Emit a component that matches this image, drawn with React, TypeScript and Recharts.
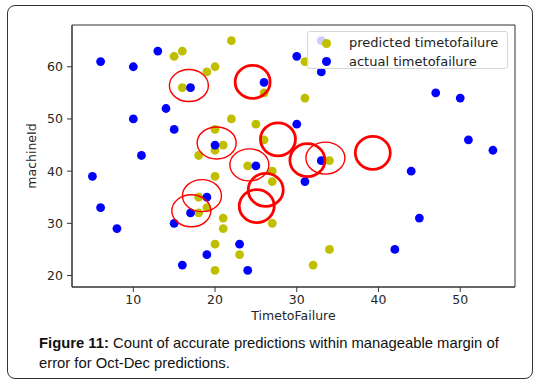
import React from "react";
import {
  ScatterChart,
  Scatter,
  XAxis,
  YAxis,
  ReferenceArea,
} from "recharts";

// values (TimetoFailure, machineId)
const predicted = [
  { x: 15, y: 62 }, { x: 16, y: 63 }, { x: 22, y: 65 }, { x: 19, y: 59 },
  { x: 20, y: 60 }, { x: 16, y: 56 }, { x: 26, y: 55 }, { x: 31, y: 61 },
  { x: 31, y: 54 }, { x: 22, y: 50 }, { x: 25, y: 49 }, { x: 20, y: 48 },
  { x: 26, y: 46 }, { x: 21, y: 45 }, { x: 20, y: 44 }, { x: 18, y: 43 },
  { x: 34, y: 42 }, { x: 24, y: 41 }, { x: 27, y: 40 }, { x: 20, y: 39 },
  { x: 27, y: 38 }, { x: 18, y: 35 }, { x: 19, y: 33 }, { x: 18, y: 32 },
  { x: 21, y: 31 }, { x: 21, y: 29 }, { x: 27, y: 30 }, { x: 20, y: 26 },
  { x: 23, y: 24 }, { x: 20, y: 21 }, { x: 34, y: 25 }, { x: 32, y: 22 },
];

const actual = [
  { x: 6, y: 61 }, { x: 10, y: 60 }, { x: 13, y: 63 }, { x: 17, y: 56 },
  { x: 26, y: 57 }, { x: 30, y: 62 }, { x: 33, y: 65 }, { x: 33, y: 59 },
  { x: 10, y: 50 }, { x: 14, y: 52 }, { x: 15, y: 48 }, { x: 30, y: 49 },
  { x: 47, y: 55 }, { x: 50, y: 54 }, { x: 51, y: 46 }, { x: 54, y: 44 },
  { x: 20, y: 45 }, { x: 11, y: 43 }, { x: 33, y: 42 }, { x: 25, y: 41 },
  { x: 44, y: 40 }, { x: 5, y: 39 }, { x: 31, y: 38 }, { x: 6, y: 33 },
  { x: 19, y: 35 }, { x: 17, y: 32 }, { x: 15, y: 30 }, { x: 8, y: 29 },
  { x: 45, y: 31 }, { x: 23, y: 26 }, { x: 19, y: 24 }, { x: 16, y: 22 },
  { x: 24, y: 21 }, { x: 42, y: 25 },
];

// red rings marking the close predictions
const thinRings = [
  { x: 16.8, y: 56.4 }, { x: 20.2, y: 45.4 }, { x: 24.2, y: 41.2 },
  { x: 33.5, y: 42.5 }, { x: 18.4, y: 35.3 }, { x: 17.1, y: 32.4 },
];
const thickRings = [
  { x: 24.6, y: 57.1 }, { x: 27.7, y: 46.1 }, { x: 31.3, y: 42.1 },
  { x: 39.3, y: 43.5 }, { x: 26.2, y: 36.4 }, { x: 25.1, y: 33.3 },
];

const xTicks = [10, 20, 30, 40, 50];
const yTicks = [20, 30, 40, 50, 60];
const xDomain = [2.5, 56.7];
const yDomain = [17.8, 68];

const YELLOW = "#bfbf00";
const BLUE = "#0000ff";
const RED = "#ff0000";
const AXIS = "#333333";
const FONT = "'DejaVu Sans', sans-serif";

const legendItems = [
  { label: "predicted timetofailure", color: YELLOW },
  { label: "actual timetofailure", color: BLUE },
];

const dot = (color: string) => (p: any) => (
  <circle cx={p.cx} cy={p.cy} r={4.4} fill={color} />
);

const ring = (rx: number, ry: number, sw: number) => (p: any) => (
  <ellipse cx={p.cx} cy={p.cy} rx={rx} ry={ry} fill="none" stroke={RED} strokeWidth={sw} />
);

// legend drawn as an overlay so it doesn't shrink the plot area
const LegendBox = () => (
  <div
    style={{
      position: "absolute",
      left: 307,
      top: 31,
      width: 201,
      height: 38,
      boxSizing: "border-box",
      background: "rgba(255,255,255,0.8)",
      border: "1px solid #d6d6d6",
      borderRadius: 3,
      fontFamily: FONT,
      fontSize: 13,
      color: "#222",
    }}
  >
    {legendItems.map((it, i) => (
      <div
        key={it.label}
        style={{ position: "absolute", left: 0, top: 2 + i * 18.5, height: 18, width: "100%" }}
      >
        <span
          style={{
            position: "absolute",
            left: 14,
            top: 4.5,
            width: 9,
            height: 9,
            borderRadius: "50%",
            background: it.color,
          }}
        />
        <span style={{ position: "absolute", left: 41, top: 0, lineHeight: "18px", whiteSpace: "nowrap" }}>
          {it.label}
        </span>
      </div>
    ))}
  </div>
);

export default function App() {
  return (
    <div style={{ position: "absolute", left: 0, top: 0, width: 541, height: 388, background: "#fff" }}>
      <div
        style={{
          position: "absolute",
          left: 7,
          top: 5,
          width: 524,
          height: 372,
          border: "1.5px solid #333",
          borderRadius: 8,
        }}
      />
      <div style={{ position: "absolute", left: 0, top: 0 }}>
        <ScatterChart
          width={541}
          height={330}
          margin={{ top: 25, right: 26, left: 32, bottom: 23 }}
        >
          <XAxis
            type="number"
            dataKey="x"
            domain={xDomain}
            ticks={xTicks}
            allowDataOverflow
            height={20}
            tickSize={5}
            tickMargin={3}
            stroke={AXIS}
            tick={{ fill: "#262626", fontSize: 12.5, fontFamily: FONT }}
            label={{
              value: "TimetoFailure",
              position: "bottom",
              offset: 4,
              fill: "#262626",
              fontSize: 12.5,
              fontFamily: FONT,
            }}
          />
          <YAxis
            type="number"
            dataKey="y"
            domain={yDomain}
            ticks={yTicks}
            allowDataOverflow
            width={40}
            tickSize={5}
            tickMargin={4}
            stroke={AXIS}
            tick={{ fill: "#262626", fontSize: 12.5, fontFamily: FONT }}
            label={{
              value: "machineId",
              angle: -90,
              position: "insideLeft",
              offset: 0,
              fill: "#262626",
              fontSize: 12.5,
              fontFamily: FONT,
              style: { textAnchor: "middle" },
            }}
          />
          <ReferenceArea
            x1={xDomain[0]}
            x2={xDomain[1]}
            y1={yDomain[0]}
            y2={yDomain[1]}
            fill="none"
            fillOpacity={0}
            stroke={AXIS}
            strokeWidth={1}
          />
          <Scatter name="predicted timetofailure" data={predicted} fill={YELLOW} shape={dot(YELLOW)} isAnimationActive={false} />
          <Scatter name="actual timetofailure" data={actual} fill={BLUE} shape={dot(BLUE)} isAnimationActive={false} />
          <Scatter data={thinRings} shape={ring(19.5, 16, 1.4)} legendType="none" isAnimationActive={false} />
          <Scatter data={thickRings} shape={ring(17.5, 16.5, 2.8)} legendType="none" isAnimationActive={false} />
        </ScatterChart>
        <LegendBox />
      </div>
      <div
        style={{
          position: "absolute",
          left: 39,
          top: 333,
          fontFamily: "'Liberation Sans', Arial, sans-serif",
          fontSize: 14.8,
          lineHeight: "20px",
          color: "#111",
          whiteSpace: "nowrap",
        }}
      >
        <b>Figure 11:</b> Count of accurate predictions within manageable margin of
        <br />
        error for Oct-Dec predictions.
      </div>
    </div>
  );
}
